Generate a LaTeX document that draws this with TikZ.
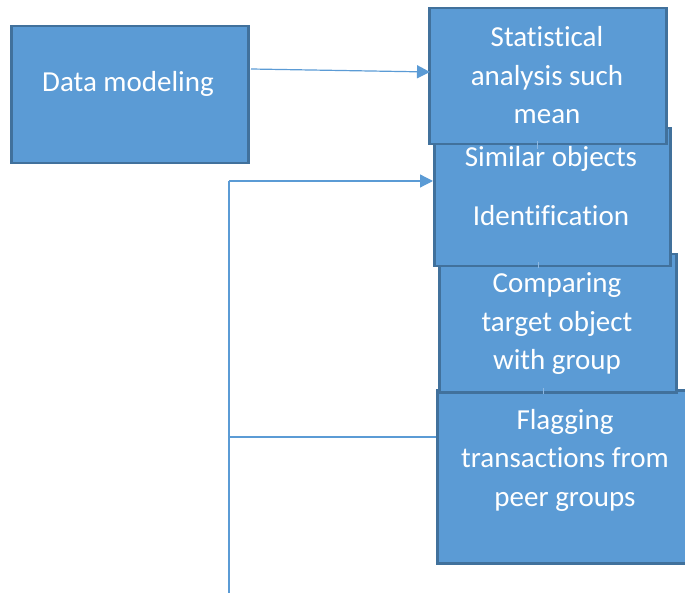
\documentclass[tikz,border=0pt]{standalone}
\usepackage{fontspec}
\setmainfont{Carlito}[Ligatures=NoCommon]
\usetikzlibrary{arrows.meta}
\definecolor{boxfill}{HTML}{5B9BD5}
\definecolor{boxline}{HTML}{41719C}
\definecolor{conn}{HTML}{5B9BD5}
\definecolor{connlight}{HTML}{8DB8E2}
\begin{document}
\begin{tikzpicture}[x=1pt,y=-1pt,
  box/.style={draw=boxline,fill=boxfill,line width=2.5pt,inner sep=0pt,anchor=north west},
  txt/.style={text=white,align=center,font=\fontsize{29}{38.5}\selectfont,inner sep=0pt},
  conline/.style={draw=conn,line width=1.2pt},
  arr/.style={conline,-{Triangle[length=13pt,width=13pt]}}]
\useasboundingbox (0,0) rectangle (685,593);
\clip (0,0) rectangle (685,593);
% boxes (back to front)
\node[box,minimum width=258pt,minimum height=173pt] (b4) at (436,389) {};
\node[box,minimum width=237pt,minimum height=138pt] (b3) at (438,253) {};
\node[box,minimum width=236pt,minimum height=138pt] (b2) at (433,127) {};
\node[box,minimum width=237pt,minimum height=136pt] (b1) at (428,7) {};
\node[box,minimum width=237pt,minimum height=137pt] (dm) at (10,25) {};
% small links between stacked boxes
\draw[draw=connlight,line width=1pt] (537,141) -- (537,149);
\draw[draw=connlight,line width=1pt] (538,262) -- (538,268);
\draw[draw=connlight,line width=1pt] (543,388) -- (543,394);
% texts
\node[txt] (tdm) at (128,84) {Data modeling};
\node[txt] (t1) at (547,75.5) {Statistical\\analysis such\\mean};
\node[txt] (t2) at (551,186) {Similar objects\\[20pt]Identification};
\node[txt] (t3) at (557,324) {Comparing\\target object\\with group};
\node[txt] (t4) at (565,460) {Flagging\\transactions from\\peer groups};
% connectors
\coordinate (s1) at (251,69);
\coordinate (e1) at (430,72);
\draw[arr] (s1) -- (e1);
\coordinate (k1) at (229,181);
\coordinate (k2) at (229,437);
\coordinate (k3) at (229,593);
\draw[conline] (k3) -- (k1);
\draw[arr] (k1) -- (k1 -| b2.west);
\draw[conline] (k2) -- (k2 -| b4.west);
\end{tikzpicture}
\end{document}
